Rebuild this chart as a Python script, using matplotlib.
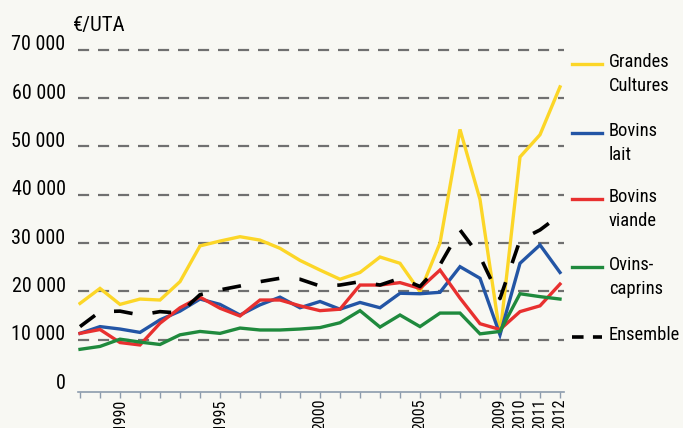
import matplotlib
matplotlib.use("Agg")
import matplotlib.pyplot as plt
from matplotlib.lines import Line2D
from matplotlib.transforms import ScaledTranslation

plt.rcParams['font.family'] = ['Liberation Sans Narrow', 'Roboto Condensed', 'DejaVu Sans']

# data (EUR per UTA)
years = list(range(1988, 2013))
grandes_cultures = [17500, 20600, 17300, 18400, 18200, 22000, 29400, 30400, 31300, 30600,
                    28900, 26400, 24400, 22500, 23900, 27100, 25800, 19900, 30000, 53500,
                    39000, 11000, 47800, 52400, 62300]
bovins_lait = [11300, 12700, 12200, 11500, 14100, 15900, 18400, 17300, 15100, 17200,
               18800, 16600, 17900, 16300, 17700, 16600, 19600, 19500, 19800, 25100,
               22700, 11000, 25800, 29600, 23900]
bovins_viande = [11300, 12100, 9400, 8900, 13400, 16600, 18800, 16500, 14900, 18200,
                 18200, 17000, 16000, 16300, 21300, 21300, 21800, 20600, 24400, 18600,
                 13300, 12100, 15800, 17000, 21500]
ovins_caprins = [8000, 8600, 10100, 9500, 9000, 11000, 11700, 11300, 12400, 12000,
                 12000, 12200, 12500, 13500, 16000, 12600, 15100, 12700, 15500, 15500,
                 11200, 11700, 19500, 18900, 18400]
ensemble = [12700, 15800, 15900, 15100, 15800, 15500, 19300, 20300, 21100, 22000,
            22700, 22500, 21100, 21300, 22000, 21300, 22700, 21000, 25500, 32700,
            27200, 18500, 30600, 32700, 35800]

series = [("Grandes\nCultures", grandes_cultures, "#fcd627"),
          ("Bovins\nlait", bovins_lait, "#2355a5"),
          ("Bovins\nviande", bovins_viande, "#e8302f"),
          ("Ovins-\ncaprins", ovins_caprins, "#1f8a3d")]

yticks = [0, 10000, 20000, 30000, 40000, 50000, 60000, 70000]
ytick_labels = ["0", "10 000", "20 000", "30 000", "40 000", "50 000", "60 000", "70 000"]
xtick_years = [1990, 1995, 2000, 2005, 2009, 2010, 2011, 2012]

bg = "#f8f8f3"
fig = plt.figure(figsize=(6.83, 4.28), dpi=100, facecolor=bg)
ax = fig.add_axes([78 / 683, 1 - 392 / 428, (564 - 78) / 683, (392 - 40) / 428])
ax.set_facecolor(bg)

for name, vals, col in series:
    ax.plot(years, vals, color=col, lw=2.4, solid_joinstyle="miter", zorder=3)
ax.plot(years, ensemble, color="black", lw=2.6, dashes=(5.2, 5.6), zorder=4)

ax.set_xlim(1987.9, 2012.2)
ax.set_ylim(-830, 72000)

for s in ["top", "right", "left"]:
    ax.spines[s].set_visible(False)
ax.spines["bottom"].set_color("#8d9cad")
ax.spines["bottom"].set_linewidth(1.2)

ax.set_yticks(yticks)
ax.set_yticklabels(ytick_labels, fontsize=14.5)
ax.tick_params(axis="y", length=0, pad=9)
off = ScaledTranslation(0, 5 / 72, fig.dpi_scale_trans)
for lab in ax.get_yticklabels():
    lab.set_transform(lab.get_transform() + off)

for y in yticks[1:]:
    ax.axhline(y, color="#707070", lw=1.6, dashes=(5, 4), zorder=1)

ax.set_xticks(years, minor=True)
ax.set_xticks(xtick_years)
ax.set_xticklabels([str(y) for y in xtick_years], rotation=90, fontsize=11.5, va="top")
ax.tick_params(axis="x", which="both", length=4, width=1, color="#8d9cad", pad=0.5)

ax.text(-5 / 486, 73000, "€/UTA", transform=ax.get_yaxis_transform(), fontsize=15,
        ha="left", va="bottom")

# legend drawn at right
leg_y = [64, 133, 199, 267, 337]
leg_items = [(n, c, "-") for n, _, c in series] + [("Ensemble", "black", "--")]
for (name, col, ls), yp in zip(leg_items, leg_y):
    yf = 1 - yp / 428
    if ls == "-":
        fig.add_artist(Line2D([572 / 683, 602 / 683], [yf, yf], color=col, lw=2.4))
    else:
        fig.add_artist(Line2D([572 / 683, 602 / 683], [yf, yf], color=col, lw=2.6,
                              dashes=(3.2, 2.6)))
    fig.text(609 / 683, 1 - (yp - 11) / 428, name, fontsize=13.3, va="top", ha="left",
             linespacing=1.4)

fig.savefig("out.png", dpi=100, facecolor=bg)
